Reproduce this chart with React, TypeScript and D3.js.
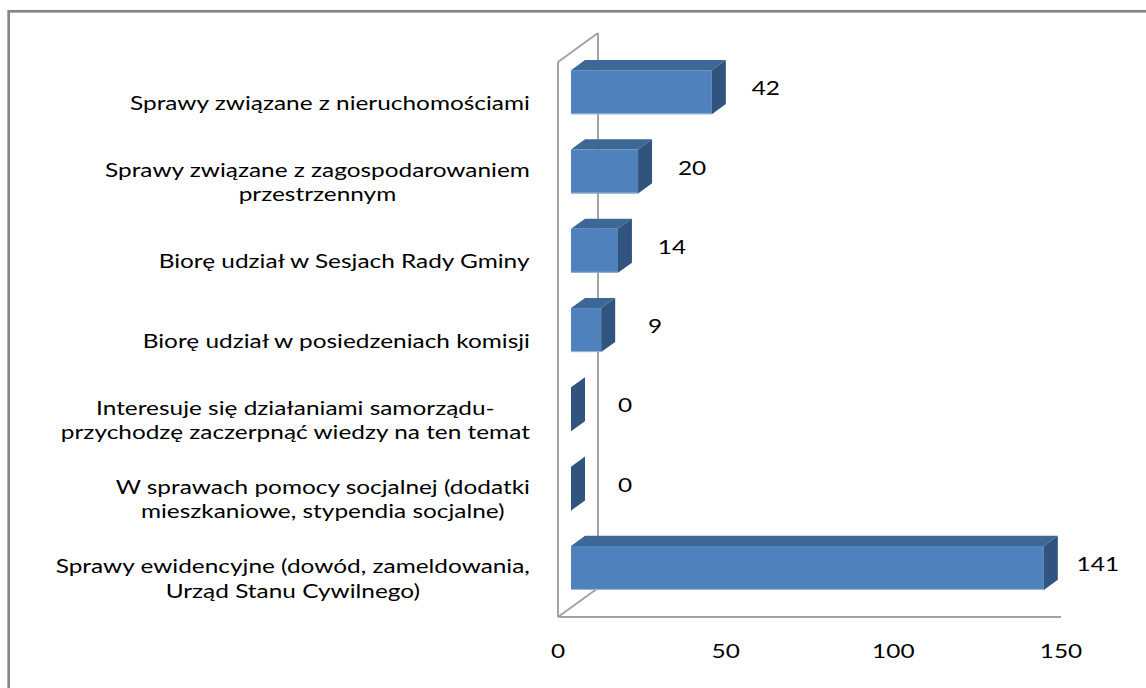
import React, { useEffect, useRef } from "react";
import * as d3 from "d3";

const categories = [
  "Sprawy związane z nieruchomościami",
  "Sprawy związane z zagospodarowaniem\nprzestrzennym",
  "Biorę udział w Sesjach Rady Gminy",
  "Biorę udział w posiedzeniach komisji",
  "Interesuje się działaniami samorządu-\nprzychodzę zaczerpnąć wiedzy na ten temat",
  "W sprawach pomocy socjalnej (dodatki\nmieszkaniowe, stypendia socjalne)",
  "Sprawy ewidencyjne (dowód, zameldowania,\nUrząd Stanu Cywilnego)",
];
const values = [42, 20, 14, 9, 0, 0, 141];
const xTicks = [0, 50, 100, 150];

const W = 1146;
const H = 688;
const FONT = "Lato, sans-serif";
const FS = 20;
const SX = 1.22;

export default function App() {
  const ref = useRef<SVGSVGElement>(null);

  useEffect(() => {
    const svg = d3.select(ref.current);
    svg.selectAll("*").remove();

    const left = 558, right = 1061, top = 62, bottom = 617;
    const DX = 40, DY = -29;
    const f0 = 0.325, f1 = 0.675;

    const x = d3.scaleLinear().domain([0, 150]).range([left, right]);
    const y = d3
      .scaleBand<string>()
      .domain(categories)
      .range([top, bottom])
      .paddingInner(0.445)
      .paddingOuter(0.2225);
    const bw = y.bandwidth();
    const p = (v: number, yy: number, f: number): [number, number] => [x(v) + DX * f, yy + DY * f];

    const addText = (cx: number, cy: number, s: string) =>
      svg
        .append("text")
        .attr("transform", `translate(${cx},${cy}) scale(${SX},1)`)
        .attr("dy", "0.35em")
        .attr("text-anchor", "middle")
        .attr("font-family", FONT)
        .attr("font-size", FS)
        .attr("fill", "#000")
        .text(s);

    // chart border
    svg
      .append("rect")
      .attr("x", 8.7)
      .attr("y", 11.3)
      .attr("width", W + 20)
      .attr("height", H + 20)
      .attr("fill", "none")
      .attr("stroke", "#868686")
      .attr("stroke-width", 2.7);

    // walls / floor
    const wall = svg.append("g").attr("stroke", "#a3a3a3").attr("stroke-width", 2).attr("fill", "none");
    const lines: [number, number, number, number][] = [
      [left, top, left, bottom],
      [left + DX, top + DY, left + DX, bottom + DY],
      [left, top, left + DX, top + DY],
      [left, bottom, left + DX, bottom + DY],
      [left, bottom, right, bottom],
    ];
    lines.forEach(([a, b, c, d]) => {
      wall.append("line").attr("x1", a).attr("y1", b).attr("x2", c).attr("y2", d);
    });

    // bars
    const bars = svg.append("g");
    const poly = (pts: [number, number][]) => pts.map((q) => q.join(",")).join(" ");
    categories.forEach((c, i) => {
      const v = values[i];
      const y0 = y(c)!;
      const g = bars.append("g");
      if (v > 0) {
        g.append("polygon")
          .attr("points", poly([p(0, y0, f0), p(v, y0, f0), p(v, y0, f1), p(0, y0, f1)]))
          .attr("fill", "#3d6795");
        const [fx0, fy0] = p(0, y0, f0);
        const [fx1] = p(v, y0, f0);
        g.append("rect")
          .attr("x", fx0)
          .attr("y", fy0)
          .attr("width", fx1 - fx0)
          .attr("height", bw)
          .attr("fill", "#4f81bd");
        g.append("line")
          .attr("x1", fx0)
          .attr("x2", fx1)
          .attr("y1", fy0 + bw - 0.5)
          .attr("y2", fy0 + bw - 0.5)
          .attr("stroke", "#9db7d8")
          .attr("stroke-width", 1);
      }
      g.append("polygon")
        .attr("points", poly([p(v, y0, f0), p(v, y0, f1), p(v, y0 + bw, f1), p(v, y0 + bw, f0)]))
        .attr("fill", "#31547f");

      const [fxEnd] = p(v, y0, f0);
      addText(fxEnd + 54, y0 + bw / 2 + DY * f0 - 4, String(v));
    });

    // category labels
    const labelRight = 530;
    const lineH = 24.5;
    categories.forEach((c) => {
      const parts = c.split("\n");
      const cy = y(c)! + bw / 2 + 1;
      const t = svg
        .append("text")
        .attr("text-anchor", "middle")
        .attr("font-family", FONT)
        .attr("font-size", FS)
        .attr("fill", "#000");
      parts.forEach((s, k) => {
        t.append("tspan")
          .attr("x", 0)
          .attr("y", -((parts.length - 1) * lineH) / 2 + k * lineH)
          .attr("dy", "0.35em")
          .text(s);
      });
      const bb = (t.node() as SVGTextElement).getBBox();
      t.attr("transform", `translate(${labelRight - (bb.width * SX) / 2},${cy}) scale(${SX},1)`);
    });

    // x tick labels
    xTicks.forEach((tk) => {
      addText(x(tk), 651, String(tk));
    });
  }, []);

  return (
    <div style={{ position: "absolute", left: 0, top: 0, width: W, height: H, background: "#fff" }}>
      <svg ref={ref} width={W} height={H} style={{ display: "block" }} />
    </div>
  );
}
